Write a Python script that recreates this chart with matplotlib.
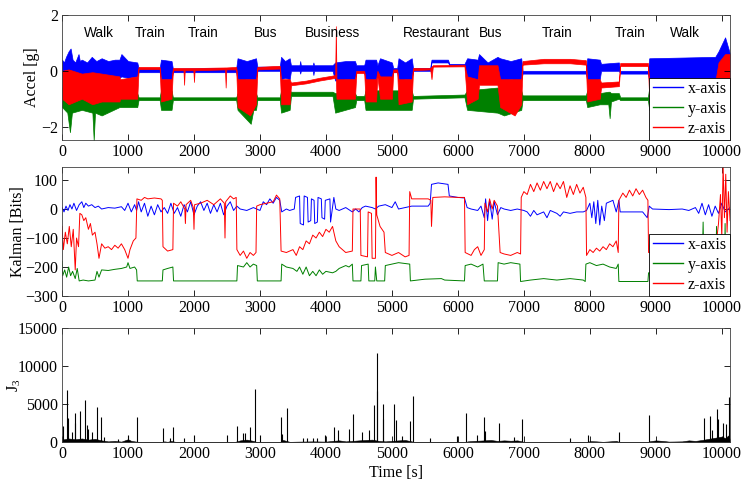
import numpy as np
import matplotlib
matplotlib.use("Agg")
import matplotlib.pyplot as plt
from matplotlib.lines import Line2D

plt.rcParams['font.family'] = ['Liberation Serif', 'DejaVu Serif']
plt.rcParams['mathtext.default'] = 'regular'
plt.rcParams['font.size'] = 11.5

# ---------------- accel panel: envelopes (time, low, high) ----------------
ax_t = [0, 30, 60, 100, 130, 160, 200, 250, 270, 300, 380, 450, 520, 600, 700, 800, 870, 900, 1000, 1140, 1160,
        1480, 1500, 1660, 1680, 2640, 2660, 2800, 2940, 2960, 3300, 3320, 3380, 3450, 3470, 3600, 3610, 3620,
        3800, 3810, 3820, 4100, 4140, 4300, 4440, 4460, 4580, 4600, 4760, 4780, 4820, 5000, 5020, 5080, 5100,
        5200, 5300, 5320, 5580, 5600, 5850, 5870, 6100, 6140, 6300, 6320, 6450, 6600, 6640, 6800, 6960, 6980,
        7940, 7960, 8150, 8170, 8440, 8460, 8880, 8900, 9900, 9950, 10050, 10125]
ax_lo = [-0.3, -0.25, -0.3, -0.25, -0.3, -0.3, -0.25, -0.2, -0.1, -0.3, -0.3, -0.3, -0.25, -0.3, -0.3, -0.3, -0.25, -0.2, -0.25, -0.2, -0.05,
         -0.05, -0.3, -0.3, -0.05, -0.05, -0.35, -0.3, -0.3, 0.0, 0.0, -0.3, -0.25, -0.3, 0.0, 0.0, -0.1, 0.0,
         0.0, -0.15, 0.0, 0.0, -0.35, -0.3, -0.3, 0.0, 0.0, -0.35, -0.3, -0.1, -0.3, -0.3, -0.05, -0.05, -0.35,
         -0.3, -0.3, 0.0, 0.0, 0.3, 0.3, 0.2, 0.2, -0.35, -0.3, -0.1, -0.2, -0.1, -0.35, -0.3, -0.35, -0.1,
         -0.1, -0.35, -0.3, 0.0, 0.0, -0.1, -0.1, -0.35, -0.35, -0.5, -0.5, -0.4]
ax_hi = [0.4, 0.3, 0.5, 0.7, 0.8, 0.4, 0.3, 0.6, 0.35, 0.4, 0.3, 0.5, 0.35, 0.45, 0.35, 0.4, 0.4, 0.6, 0.35, 0.3, 0.1,
         0.1, 0.4, 0.35, 0.08, 0.1, 0.45, 0.35, 0.45, 0.15, 0.15, 0.5, 0.35, 0.45, 0.2, 0.2, 0.35, 0.2,
         0.2, 0.3, 0.2, 0.2, 0.3, 0.35, 0.35, 0.2, 0.2, 0.4, 0.4, 0.2, 0.45, 0.3, 0.1, 0.1, 0.45,
         0.3, 0.45, 0.1, 0.1, 0.4, 0.4, 0.25, 0.25, 0.45, 0.4, 0.6, 0.3, 0.5, 0.45, 0.35, 0.45, 0.0,
         0.0, 0.45, 0.4, 0.25, 0.3, 0.0, 0.0, 0.45, 0.5, 0.7, 1.2, 0.6]

ay_t = [0, 80, 120, 150, 300, 460, 480, 500, 600, 870, 900, 1140, 1160, 1480, 1500, 1660, 1680, 2640, 2660,
        2860, 2900, 2940, 2960, 3300, 3320, 3450, 3470, 4100, 4140, 4440, 4460, 4580, 4600, 5300, 5320,
        6100, 6140, 6600, 6700, 6960, 6980, 7940, 7960, 8150, 8280, 8300, 8320, 8440, 8460, 8880, 8900, 10125]
ay_lo = [-1.3, -1.5, -2.2, -1.5, -1.4, -1.5, -2.5, -1.5, -1.6, -1.3, -1.3, -1.3, -1.05, -1.05, -1.4, -1.4, -1.05, -1.05, -1.4,
         -1.9, -1.4, -1.4, -1.05, -1.05, -1.5, -1.4, -0.9, -0.9, -1.5, -1.3, -1.05, -1.05, -1.4, -1.4, -1.0,
         -0.95, -1.4, -1.5, -1.6, -1.4, -1.05, -1.05, -1.3, -1.2, -1.2, -1.7, -1.1, -1.0, -1.05, -1.05, -1.4, -1.4]
ay_hi = [-0.6, -0.5, -0.5, -0.5, -0.6, -0.5, -0.5, -0.5, -0.5, -0.6, -0.7, -0.8, -0.95, -0.95, -0.7, -0.7, -0.95, -0.95, -0.8,
         -0.8, -0.8, -0.8, -0.95, -0.95, -0.7, -0.7, -0.75, -0.75, -0.8, -0.8, -0.9, -0.9, -0.7, -0.7, -0.9,
         -0.85, -0.7, -0.6, -0.7, -0.7, -0.88, -0.88, -0.7, -0.8, -0.75, -0.75, -0.8, -0.8, -0.95, -0.95, -0.6, -0.6]

az_t = [0, 100, 300, 460, 600, 870, 880, 1140, 1160, 1480, 1500, 1660, 1680, 1840, 1850, 1860, 1990, 2000, 2010,
        2470, 2480, 2490, 2640, 2660, 2850, 2940, 2960, 3300, 3320, 3450, 3470, 3700, 3900, 4100, 4140, 4150,
        4160, 4440, 4460, 4580, 4600, 4760, 4780, 4820, 5000, 5020, 5080, 5100, 5300, 5320, 5580, 5600, 5620,
        6100, 6140, 6300, 6320, 6600, 6640, 6860, 6960, 6980, 7300, 7700, 7940, 7960, 8150, 8170, 8440, 8460,
        8880, 8900, 9900, 9950, 10050, 10125]
az_lo = [-1.0, -1.2, -1.0, -1.2, -1.1, -1.1, -1.0, -1.0, 0.06, 0.06, -1.1, -1.0, 0.02, 0.02, -0.5, 0.02, 0.02, -0.4, 0.02,
         0.05, -0.6, 0.05, 0.05, -1.3, -1.6, -1.2, 0.05, 0.08, -1.2, -1.2, -0.52, -0.45, -0.35, -0.27, -0.25, -0.25,
         -1.0, -1.0, -0.08, -0.08, -1.1, -1.1, -0.2, -1.0, -1.0, -0.05, -0.05, -1.2, -1.1, 0.02, 0.05, -0.3, 0.15,
         0.16, -1.2, -1.0, -0.5, -0.5, -1.3, -1.6, -1.2, 0.22, 0.27, 0.27, 0.22, -1.1, -1.0, -0.6, -0.55, 0.17,
         0.17, -1.0, -1.0, -0.9, -0.8, -0.5]
az_hi = [0.0, 0.05, -0.1, -0.05, -0.1, -0.2, -0.3, -0.2, 0.14, 0.14, -0.3, -0.3, 0.1, 0.1, 0.1, 0.1, 0.1, 0.1, 0.1,
         0.12, 0.12, 0.12, 0.14, -0.3, -0.3, -0.3, 0.14, 0.18, -0.3, -0.3, -0.42, -0.35, -0.25, -0.17, -0.15, 1.6,
         -0.3, -0.3, 0.0, 0.0, -0.3, -0.3, 0.0, -0.2, -0.2, 0.05, 0.05, -0.3, -0.3, 0.1, 0.1, 0.15, 0.2,
         0.22, -0.2, -0.3, 0.2, 0.2, -0.3, -0.3, -0.3, 0.35, 0.43, 0.43, 0.38, -0.3, -0.3, -0.42, -0.38, 0.28,
         0.28, -0.4, -0.4, 0.3, 0.6, 0.6]

activities = ['Walk', 'Train', 'Train', 'Bus', 'Business', 'Restaurant', 'Bus', 'Train', 'Train', 'Walk']
activity_t = [560, 1340, 2140, 3090, 4107, 5670, 6500, 7500, 8610, 9444]

# ---------------- Kalman panel: (time, value) ----------------
kx_t = [0, 30, 60, 90, 120, 150, 180, 220, 260, 300, 330, 360, 400, 450, 500, 550, 600, 700, 800, 900, 950, 1000,
        1050, 1100, 1130, 1160, 1200, 1250, 1300, 1350, 1400, 1450, 1500, 1550, 1600, 1650, 1700, 1750, 1800,
        1850, 1900, 1950, 2000, 2050, 2100, 2150, 2200, 2250, 2300, 2350, 2400, 2450, 2500, 2550, 2600, 2650,
        2700, 2800, 2900, 3000, 3050, 3100, 3150, 3200, 3250, 3300, 3330, 3400, 3450, 3520, 3540, 3600, 3610,
        3660, 3670, 3720, 3730, 3770, 3780, 3820, 3830, 3870, 3880, 3930, 3940, 3980, 3990, 4060, 4070, 4120,
        4150, 4200, 4300, 4400, 4450, 4500, 4550, 4600, 4700, 4750, 4800, 4900, 5000, 5050, 5100, 5200, 5300,
        5550, 5580, 5600, 5700, 5850, 5870, 6000, 6100, 6140, 6200, 6300, 6350, 6400, 6420, 6450, 6480, 6520,
        6550, 6600, 6650, 6700, 6800, 6900, 7000, 7050, 7100, 7150, 7200, 7300, 7350, 7400, 7500, 7550, 7600,
        7700, 7800, 7900, 7950, 8000, 8030, 8060, 8090, 8120, 8150, 8180, 8220, 8250, 8300, 8350, 8400, 8440,
        8460, 8600, 8800, 8870, 8900, 8950, 9200, 9400, 9500, 9600, 9650, 9700, 9750, 9800, 9850, 9900, 9950,
        10000, 10050, 10125]
kx_v = [5, -10, 10, -5, 15, 0, 20, -5, 15, 25, 5, 20, 10, 15, 5, 10, 0, 5, 3, 8, -5, 20,
        -10, 15, -5, 25, -10, 20, -25, 10, -20, 15, -10, 5, -15, 20, -15, 5, -25,
        15, -10, 25, -20, 10, 25, -5, 20, -15, 15, -10, 20, -20, 10, 25, -5, 10,
        0, -5, 5, -5, 25, 15, 35, 20, 40, 30, -10, 0, -5, 0, 40, 45, -50,
        -55, 45, 40, -45, -40, 35, 30, -50, -45, 40, 35, -30, -35, 30, 35, -45, 40,
        0, -5, 5, -10, 0, -10, 5, 10, 5, 0, 10, 15, 5, 25, 0, 5, 10,
        10, 20, 85, 90, 85, 45, 40, 38, 5, 0, -5, 10, -30, 35, -40, 30, -35,
        25, -20, 5, 0, -5, 0, -5, -10, -25, -5, -20, -10, -30, -5, -15, -25, -10,
        -15, -10, -10, -5, 20, -30, 25, -50, 30, -55, 10, -40, 20, 25, 30, -10, 30,
        -10, -10, -10, -30, 10, 0, -2, 0, -5, 5, -15, 20, -20, 15, -25, 10, -15,
        20, -10, 5]

ky_t = [0, 10, 40, 70, 100, 130, 160, 200, 230, 260, 320, 400, 500, 530, 560, 600, 700, 800, 900, 980, 1000,
        1030, 1100, 1130, 1140, 1520, 1530, 1600, 1680, 1690, 2650, 2660, 2750, 2800, 2850, 2900, 2950, 2960,
        3320, 3330, 3400, 3500, 3560, 3600, 3650, 3700, 3750, 3800, 3850, 3900, 3950, 4000, 4100, 4150, 4200,
        4300, 4350, 4400, 4410, 4530, 4540, 4640, 4650, 4740, 4750, 4770, 4890, 4900, 5000, 5100, 5270, 5280,
        5500, 5750, 5800, 6100, 6110, 6200, 6300, 6380, 6400, 6600, 6610, 6700, 6800, 6940, 6950, 7100, 7300,
        7500, 7700, 7900, 7930, 7940, 8000, 8100, 8200, 8300, 8400, 8430, 8440, 8880, 8890, 9700, 9717, 9730,
        9910, 9920, 9930, 10040, 10050, 10060, 10125]
ky_v = [-180, -230, -210, -235, -200, -230, -215, -240, -205, -248, -245, -248, -245, -215, -235, -210, -212, -208, -205, -200, -185,
        -205, -200, -210, -248, -248, -210, -205, -200, -248, -248, -195, -200, -185, -200, -190, -195, -248,
        -248, -190, -200, -205, -215, -200, -225, -200, -230, -215, -230, -210, -225, -215, -220, -215, -205,
        -195, -200, -190, -248, -248, -195, -190, -248, -248, -200, -248, -248, -195, -190, -185, -190, -248,
        -242, -240, -245, -248, -195, -190, -200, -190, -248, -248, -185, -190, -185, -190, -250, -245, -240,
        -245, -240, -245, -250, -190, -185, -195, -190, -200, -205, -190, -250, -250, -220, -220, -45, -220,
        -220, -60, -220, -220, -50, -220, -220]

kz_t = [0, 20, 50, 80, 110, 140, 170, 200, 220, 250, 270, 300, 330, 360, 400, 430, 460, 500, 530, 560, 600, 650,
        700, 750, 800, 850, 900, 950, 1000, 1030, 1080, 1120, 1135, 1200, 1250, 1300, 1400, 1500, 1520, 1530,
        1600, 1680, 1690, 1750, 1800, 1860, 1870, 1880, 1950, 1990, 2000, 2010, 2100, 2200, 2300, 2400, 2460,
        2470, 2480, 2550, 2600, 2640, 2650, 2700, 2750, 2800, 2850, 2900, 2940, 2950, 3000, 3100, 3200, 3250,
        3300, 3320, 3400, 3500, 3550, 3600, 3650, 3700, 3750, 3800, 3850, 3900, 3950, 4000, 4050, 4100, 4150,
        4200, 4300, 4400, 4410, 4520, 4530, 4630, 4640, 4690, 4700, 4750, 4760, 4770, 4820, 4880, 4900, 5000,
        5100, 5200, 5260, 5270, 5300, 5550, 5590, 5600, 5620, 5800, 6000, 6100, 6110, 6200, 6250, 6300, 6350,
        6400, 6410, 6450, 6480, 6520, 6550, 6600, 6640, 6700, 6800, 6900, 6950, 6960, 7000, 7050, 7100, 7150,
        7200, 7250, 7300, 7350, 7400, 7450, 7500, 7550, 7600, 7650, 7700, 7750, 7800, 7850, 7900, 7940, 7950,
        8000, 8050, 8100, 8150, 8200, 8250, 8300, 8350, 8400, 8430, 8440, 8500, 8550, 8600, 8650, 8700, 8750,
        8800, 8850, 8880, 8890, 9900, 9950, 9980, 10000, 10020, 10040, 10060, 10080, 10100, 10125]
kz_v = [-60, -140, -80, -120, -60, -130, -70, -210, -100, -130, -15, -20, -40, -30, -70, -50, -90, -80, -120, -170, -120, -135,
        -130, -140, -125, -135, -120, -140, -170, -140, -110, -100, 35, 30, 40, 35, 38, 35, 30, -130,
        -145, -140, 20, 10, 25, 0, -50, 15, 30, 5, -70, 15, 20, 30, 15, 35, 20,
        -100, 25, 45, 35, 40, -140, -160, -145, -170, -150, -160, -150, 10, 15, 20, 25, 48,
        35, -145, -150, -140, -160, -130, -140, -110, -120, -90, -100, -80, -95, -70, -80, -60, -110,
        -130, -150, -145, 0, 0, -160, -165, -10, -15, -170, -170, 110, -20, -60, -80, -150, -160,
        -150, -165, -160, 60, 35, 35, 30, -60, 40, 42, 40, 40, -150, -160, -140, -130, -160,
        -140, 20, -10, 35, 0, 30, 10, -150, -155, -160, -150, -155, 40, 60, 50, 85, 60,
        90, 65, 95, 70, 95, 60, 90, 70, 95, 40, 80, 50, 85, 55, 75, 40, -160,
        -140, -150, -135, -145, -130, -140, -120, -130, -110, -150, 30, 55, 40, 65, 45, 70, 50,
        65, 40, 30, -150, -150, -50, 50, -100, 150, -30, 120, -80, 60, -40]

# ---------------- J3 panel ----------------
j3_base_t = [0, 100, 200, 300, 400, 500, 600, 700, 800, 900, 950, 1000, 1050, 1150, 1200, 1500, 1550, 1600, 1650,
             1700, 1750, 2600, 2650, 2700, 2800, 2900, 2950, 3300, 3350, 3400, 3450, 3600, 3800, 4000, 4100, 4200,
             4300, 4400, 4500, 4600, 4700, 4800, 4900, 5000, 5100, 5200, 5300, 5350, 6100, 6150, 6250, 6400, 6500,
             6600, 6700, 6800, 6900, 7000, 7050, 7950, 8000, 8100, 8200, 8400, 8450, 8500, 8880, 8900, 9000, 9100,
             9200, 9400, 9500, 9600, 9700, 9800, 9900, 10000, 10050, 10100, 10125]
j3_base_v = [350, 500, 400, 500, 350, 450, 250, 120, 180, 90, 250, 400, 180, 60, 10, 20, 120, 60, 180,
             90, 10, 10, 120, 250, 350, 180, 30, 30, 300, 180, 60, 90, 120, 90, 180, 250,
             120, 180, 250, 300, 350, 180, 120, 180, 250, 300, 120, 10, 10, 120, 180, 250, 300,
             180, 250, 200, 250, 60, 10, 10, 150, 120, 60, 180, 30, 10, 10, 120, 250, 180,
             90, 120, 250, 180, 300, 450, 600, 750, 550, 900, 300]
spike_t = [10, 71, 96, 150, 197, 200, 273, 348, 380, 400, 450, 535, 586, 640, 850, 1000, 1141, 1535, 1630, 1687,
           1855, 2005, 2495, 2657, 2750, 2780, 2848, 2924, 3000, 3313, 3330, 3404, 3650, 3720, 3800, 3870, 3985,
           4126, 4177, 4353, 4414, 4540, 4656, 4727, 4770, 4780, 4861, 4865, 5033, 5063, 5160, 5276, 5316, 5570,
           5990, 6124, 6297, 6397, 6410, 6629, 6850, 6968, 7700, 7970, 8447, 8903, 9737, 9823, 9850, 9924, 9949,
           10025, 10060, 10116]
spike_v = [2200, 6900, 3200, 1300, 2500, 3800, 4150, 5570, 2300, 1700, 1300, 4580, 3260, 700, 400, 900, 3260, 1900, 500, 2050,
           600, 1000, 900, 2150, 1200, 1200, 2000, 7000, 1000, 3260, 1100, 4450, 500, 500, 550, 500, 900,
           2050, 1600, 1800, 3700, 1300, 1600, 4850, 6720, 11660, 5000, 3100, 5000, 2900, 850, 2750, 6070, 500,
           850, 3800, 1000, 3260, 1500, 2550, 700, 3000, 600, 1000, 1300, 3540, 3140, 3450, 1600, 4360, 3000,
           2500, 2400, 5890]

blue, green, red = (0, 0, 1), (0, 0.5, 0), (1, 0, 0)
xmax = 10125

fig = plt.figure(figsize=(7.51, 4.94), dpi=100)
ax1 = fig.add_axes([0.0826, 0.7166, 0.8895, 0.253])
ax2 = fig.add_axes([0.0826, 0.4008, 0.8895, 0.2612])
ax3 = fig.add_axes([0.0826, 0.1047, 0.8895, 0.2313])

for t, lo, hi, c in [(ax_t, ax_lo, ax_hi, blue), (ay_t, ay_lo, ay_hi, green), (az_t, az_lo, az_hi, red)]:
    ax1.fill_between(t, lo, hi, facecolor=c, edgecolor=c, lw=0.5)
for name, t in zip(activities, activity_t):
    ax1.text(t, 1.35, name, ha='center', va='center', fontsize=9.8, family=['Liberation Sans', 'DejaVu Sans'])
ax1.set_ylim(-2.48, 2)
ax1.set_yticks([-2, 0, 2])
ax1.set_ylabel('Accel [g]', va='center')
ax1.yaxis.set_label_coords(-0.045, 0.5)

ax2.plot(kx_t, kx_v, color=blue, lw=0.7)
ax2.plot(ky_t, ky_v, color=green, lw=0.7)
ax2.plot(kz_t, kz_v, color=red, lw=0.7)
ax2.set_ylim(-300, 145)
ax2.set_yticks([-300, -200, -100, 0, 100])
ax2.set_ylabel('Kalman [Bits]', va='center')
ax2.yaxis.set_label_coords(-0.066, 0.5)

ax3.fill_between(j3_base_t, 0, j3_base_v, color='k', lw=0.4)
ax3.vlines(spike_t, 0, spike_v, color='k', lw=0.8)
ax3.set_ylim(0, 15000)
ax3.set_yticks([0, 5000, 10000, 15000])
ax3.set_ylabel('J$_3$', va='center')
ax3.yaxis.set_label_coords(-0.072, 0.5)
ax3.set_xlabel('Time [s]', labelpad=2)

handles = [Line2D([], [], color=c, lw=1) for c in (blue, green, red)]
for ax in (ax1, ax2):
    leg = ax.legend(handles, ['x-axis', 'y-axis', 'z-axis'], loc='lower right', borderaxespad=0,
                    fancybox=False, framealpha=1, edgecolor='k', handlelength=1.9,
                    handletextpad=0.3, labelspacing=0.25, borderpad=0.2, fontsize=11.5)
    leg.get_frame().set_linewidth(0.6)

for ax in (ax1, ax2, ax3):
    ax.set_xlim(0, xmax)
    ax.set_xticks(np.arange(0, 10001, 1000))
    ax.tick_params(direction='in', top=True, right=True, length=4, width=0.6, labelsize=11.5, pad=3)
    for s in ax.spines.values():
        s.set_linewidth(0.6)
        s.set_color('0.25')

fig.savefig('out.png', dpi=100)
